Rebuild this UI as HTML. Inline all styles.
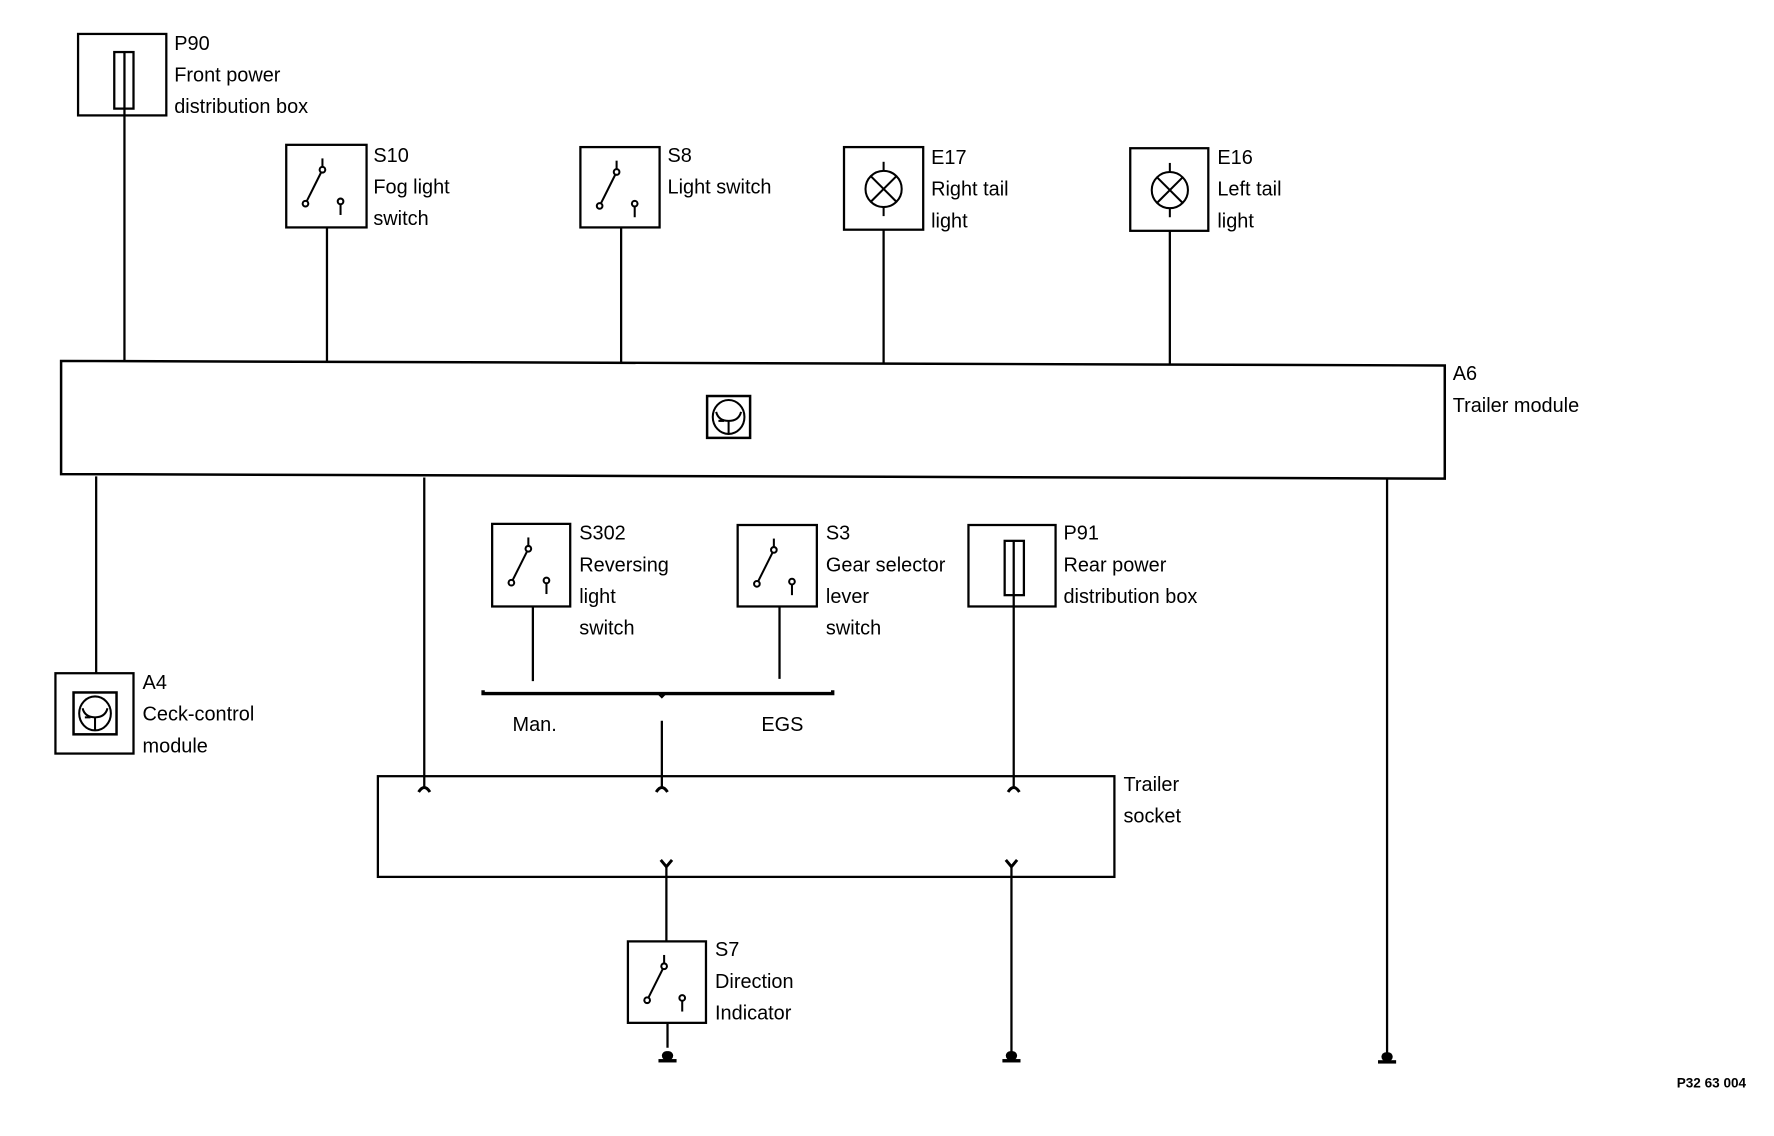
<!DOCTYPE html>
<html><head><meta charset="utf-8"><style>
html,body{margin:0;padding:0;background:#fff;}
svg{display:block;}
text{font-family:"Liberation Sans",Arial,sans-serif;font-size:17.6px;fill:#000;}
</style></head><body>
<svg width="1774" height="1136" viewBox="0 0 1568 1004" preserveAspectRatio="none" xmlns="http://www.w3.org/2000/svg">
<defs>
<g id="sw" fill="none" stroke="#000" stroke-width="1.8">
<line x1="32" y1="12" x2="32" y2="20"/>
<circle cx="32" cy="22" r="2.5" fill="#fff"/>
<line x1="31" y1="24" x2="18" y2="50"/>
<circle cx="17" cy="52" r="2.5" fill="#fff"/>
<circle cx="48" cy="50" r="2.5" fill="#fff"/>
<line x1="48" y1="52" x2="48" y2="62"/>
</g>
<g id="lamp" fill="none" stroke="#000" stroke-width="1.8">
<circle cx="0" cy="0" r="16"/>
<line x1="-11.3" y1="-11.3" x2="11.3" y2="11.3"/>
<line x1="-11.3" y1="11.3" x2="11.3" y2="-11.3"/>
<line x1="0" y1="-16" x2="0" y2="-24"/>
<line x1="0" y1="16" x2="0" y2="24"/>
</g>
<g id="mod" fill="none" stroke="#000" stroke-width="1.8">
<rect x="0" y="0" width="38" height="37" stroke-width="2.2"/>
<ellipse cx="19" cy="18.5" rx="14" ry="15"/>
<path d="M8 14 Q10 22 19 22 Q28 22 30 14"/>
<line x1="19" y1="22" x2="19" y2="33"/>
<path d="M10 22 h5"/>
</g>
<g id="gnd" fill="#000">
<rect x="-5" y="-5" width="10" height="8" rx="4"/>
<rect x="-8" y="2" width="16" height="3"/>
</g>
<g id="up" fill="none" stroke="#000" stroke-width="2.6"><path d="M-5 3 Q0 -5 5 3"/></g>
<g id="dn" fill="none" stroke="#000" stroke-width="2.6"><path d="M-5 -4 L0 2 L5 -4"/></g>
</defs>

<g fill="none" stroke="#000" stroke-width="2">
<line x1="110" y1="96" x2="110" y2="319"/>
<line x1="289" y1="201" x2="289" y2="319"/>
<line x1="549" y1="201" x2="549" y2="320"/>
<line x1="781" y1="203" x2="781" y2="321"/>
<line x1="1034" y1="204" x2="1034" y2="322"/>
<line x1="85" y1="421" x2="85" y2="595"/>
<line x1="375" y1="422" x2="375" y2="697"/>
<line x1="1226" y1="423" x2="1226" y2="932"/>
<line x1="471" y1="536" x2="471" y2="602"/>
<line x1="689" y1="536" x2="689" y2="600"/>
<line x1="585" y1="637" x2="585" y2="697"/>
<line x1="896" y1="526" x2="896" y2="697"/>
<line x1="589" y1="766" x2="589" y2="832"/>
<line x1="590" y1="904" x2="590" y2="926"/>
<line x1="894" y1="766" x2="894" y2="930"/>
<path d="M427 610 V613 H736 V610" stroke-width="3"/>
<path d="M582 613 L585 616 L588 613" stroke-width="2"/>
<rect x="69" y="30" width="78" height="72"/>
<rect x="101" y="46" width="17" height="50"/>
<line x1="110" y1="46" x2="110" y2="96"/>
<rect x="253" y="128" width="71" height="73"/>
<rect x="513" y="130" width="70" height="71"/>
<rect x="746" y="130" width="70" height="73"/>
<rect x="999" y="131" width="69" height="73"/>
<path d="M54 319 L1277 323 L1277 423 L54 419 Z" stroke-width="2.2"/>
<rect x="49" y="595" width="69" height="71"/>
<rect x="435" y="463" width="69" height="73"/>
<rect x="652" y="464" width="70" height="72"/>
<rect x="856" y="464" width="77" height="72"/>
<rect x="888" y="478" width="17" height="48"/>
<line x1="896" y1="478" x2="896" y2="526"/>
<rect x="334" y="686" width="651" height="89"/>
<rect x="555" y="832" width="69" height="72"/>
</g>

<use href="#sw" x="253" y="128"/>
<use href="#sw" x="513" y="130"/>
<use href="#sw" x="435" y="463"/>
<use href="#sw" x="652" y="464"/>
<use href="#sw" x="555" y="832"/>
<use href="#lamp" x="781" y="167"/>
<use href="#lamp" x="1034" y="168"/>
<use href="#mod" x="625" y="350"/>
<use href="#mod" x="65" y="612"/>
<use href="#up" x="375" y="697"/>
<use href="#up" x="585" y="697"/>
<use href="#up" x="896" y="697"/>
<use href="#dn" x="589" y="764"/>
<use href="#dn" x="894" y="764"/>
<use href="#gnd" x="590" y="934"/>
<use href="#gnd" x="894" y="934"/>
<use href="#gnd" x="1226" y="935"/>

<text x="154" y="44">P90</text>
<text x="154" y="72">Front power</text>
<text x="154" y="100">distribution box</text>
<text x="330" y="143">S10</text>
<text x="330" y="171">Fog light</text>
<text x="330" y="199">switch</text>
<text x="590" y="143">S8</text>
<text x="590" y="171">Light switch</text>
<text x="823" y="145">E17</text>
<text x="823" y="173">Right tail</text>
<text x="823" y="201">light</text>
<text x="1076" y="145">E16</text>
<text x="1076" y="173">Left tail</text>
<text x="1076" y="201">light</text>
<text x="1284" y="336">A6</text>
<text x="1284" y="364">Trailer module</text>
<text x="126" y="609">A4</text>
<text x="126" y="637">Ceck-control</text>
<text x="126" y="665">module</text>
<text x="512" y="477">S302</text>
<text x="512" y="505">Reversing</text>
<text x="512" y="533">light</text>
<text x="512" y="561">switch</text>
<text x="730" y="477">S3</text>
<text x="730" y="505">Gear selector</text>
<text x="730" y="533">lever</text>
<text x="730" y="561">switch</text>
<text x="940" y="477">P91</text>
<text x="940" y="505">Rear power</text>
<text x="940" y="533">distribution box</text>
<text x="453" y="646">Man.</text>
<text x="673" y="646">EGS</text>
<text x="993" y="699">Trailer</text>
<text x="993" y="727">socket</text>
<text x="632" y="845">S7</text>
<text x="632" y="873">Direction</text>
<text x="632" y="901">Indicator</text>
<text x="1482" y="961" style="font-size:12px;font-weight:bold">P32 63 004</text>
</svg>
</body></html>
